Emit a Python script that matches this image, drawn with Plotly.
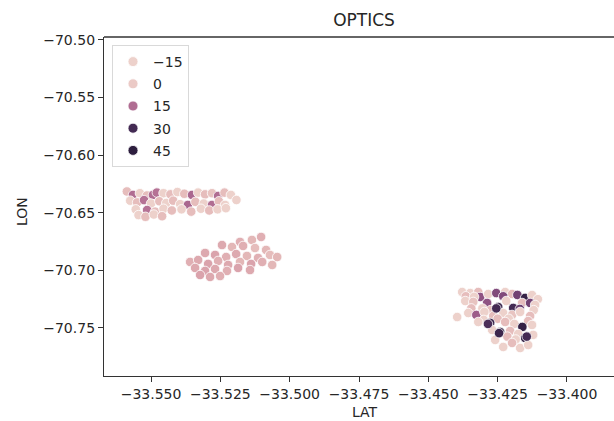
import numpy as np
import plotly.graph_objects as go

# ---------------- data ----------------
# top-left cluster
top_lat = [-33.5587, -33.5565, -33.5540, -33.5515, -33.5493, -33.5479, -33.5455, -33.5430, -33.5405,
           -33.5380, -33.5352, -33.5330, -33.5305, -33.5280, -33.5258, -33.5235, -33.5212,
           -33.5575, -33.5550, -33.5525, -33.5500, -33.5470, -33.5445, -33.5420, -33.5395, -33.5367,
           -33.5340, -33.5310, -33.5280, -33.5255, -33.5233, -33.5192,
           -33.5555, -33.5514, -33.5485, -33.5455, -33.5425, -33.5390, -33.5355, -33.5320, -33.5290,
           -33.5260, -33.5230,
           -33.5545, -33.5520, -33.5490, -33.5460]
top_lon = [-70.6315, -70.6345, -70.6330, -70.6350, -70.6345, -70.6325, -70.6330, -70.6340, -70.6320,
           -70.6335, -70.6345, -70.6325, -70.6340, -70.6330, -70.6354, -70.6325, -70.6345,
           -70.6395, -70.6410, -70.6390, -70.6420, -70.6400, -70.6415, -70.6395, -70.6425, -70.6432,
           -70.6405, -70.6420, -70.6432, -70.6400, -70.6432, -70.6389,
           -70.6470, -70.6476, -70.6490, -70.6465, -70.6480, -70.6470, -70.6490, -70.6465, -70.6480,
           -70.6470, -70.6460,
           -70.6520, -70.6535, -70.6515, -70.6530]
top_lab = [2, 15, -1, 2, 15, 14, -1, 2, -1,
           2, 16, -1, 2, 1, 15, 2, -1,
           -1, 2, 14, -1, 2, -1, 2, -1, 16,
           2, -1, 15, 2, -1, -1,
           -1, 14, 2, -1, 2, -1, 2, -1, 2,
           -1, -1,
           -1, 2, -1, 2]

# middle cluster
mid_lat = [-33.5179, -33.5136, -33.5103,
           -33.5244, -33.5208, -33.5168, -33.5125, -33.5085,
           -33.5305, -33.5269, -33.5229, -33.5193, -33.5154, -33.5114, -33.5071, -33.5045,
           -33.5359, -33.5330, -33.5294, -33.5258, -33.5222, -33.5179, -33.5139, -33.5099, -33.5063,
           -33.5341, -33.5305, -33.5269, -33.5226, -33.5186, -33.5143,
           -33.5323, -33.5287, -33.5251]
mid_lon = [-70.6753, -70.6736, -70.6710,
           -70.6780, -70.6797, -70.6788, -70.6806, -70.6823,
           -70.6849, -70.6866, -70.6884, -70.6858, -70.6875, -70.6892, -70.6866, -70.6884,
           -70.6927, -70.6910, -70.6944, -70.6918, -70.6953, -70.6927, -70.6944, -70.6927, -70.6953,
           -70.6979, -70.7005, -70.6988, -70.7005, -70.6979, -70.6997,
           -70.7040, -70.7057, -70.7049]
mid_lab = [4, 3, 4,
           5, 3, 4, 2, 3,
           5, 6, 4, 5, 3, 4, 2, 3,
           4, 5, 6, 4, 5, 3, 6, 4, 3,
           5, 6, 5, 4, 6, 5,
           6, 5, 4]

# right cluster
right_lat = [-33.4378, -33.4349, -33.4320, -33.4313, -33.4284, -33.4255, -33.4223, -33.4198, -33.4179,
             -33.4151, -33.4126,
             -33.4365, -33.4335, -33.4230, -33.4105,
             -33.4367, -33.4338, -33.4288, -33.4248, -33.4219, -33.4194, -33.4162, -33.4133, -33.4115,
             -33.4345, -33.4305, -33.4275, -33.4170, -33.4120,
             -33.4396,
             -33.4356, -33.4327, -33.4298, -33.4266, -33.4230, -33.4198, -33.4169, -33.4133,
             -33.4300, -33.4250, -33.4210, -33.4140,
             -33.4320, -33.4277, -33.4223, -33.4190, -33.4161, -33.4126,
             -33.4270, -33.4241, -33.4205, -33.4176, -33.4151, -33.4122,
             -33.4215, -33.4185,
             -33.4259, -33.4230, -33.4198, -33.4169, -33.4140,
             -33.4255, -33.4285, -33.4245, -33.4145]
right_lon = [-70.7188, -70.7197, -70.7188, -70.7231, -70.7205, -70.7197, -70.7188, -70.7205, -70.7213,
             -70.7239, -70.7214,
             -70.7225, -70.7230, -70.7225, -70.7250,
             -70.7266, -70.7274, -70.7283, -70.7318, -70.7266, -70.7326, -70.7283, -70.7283, -70.7300,
             -70.7330, -70.7330, -70.7345, -70.7335, -70.7345,
             -70.7405,
             -70.7370, -70.7387, -70.7361, -70.7396, -70.7370, -70.7387, -70.7361, -70.7396,
             -70.7430, -70.7420, -70.7420, -70.7440,
             -70.7448, -70.7456, -70.7448, -70.7465, -70.7491, -70.7474,
             -70.7517, -70.7535, -70.7526, -70.7552, -70.7587, -70.7560,
             -70.7575, -70.7600,
             -70.7604, -70.7665, -70.7630, -70.7674, -70.7648,
             -70.7330, -70.7465, -70.7545, -70.7575]
right_lab = [-1, -1, 2, 20, -1, 22, -1, 2, 24,
             32, -1,
             2, -1, 22, -1,
             -1, 1, 20, 31, -1, 30, 2, 24, -1,
             2, -1, 2, 25, -1,
             -1,
             -1, 18, -1, 2, -1, 1, -1, 2,
             -1, 2, -1, 2,
             -1, 31, 2, -1, 32, -1,
             -1, 33, 2, -1, 32, -1,
             2, -1,
             -1, -1, 2, -1, -1,
             30, 29, 31, 30]

lat = top_lat + mid_lat + right_lat
lon = top_lon + mid_lon + right_lon
labels = top_lab + mid_lab + right_lab

legend_values = [-15, 0, 15, 30, 45]
legend_text = ["\u221215", "0", "15", "30", "45"]

x_ticks = [-33.550, -33.525, -33.500, -33.475, -33.450, -33.425, -33.400]
x_ticktext = ["\u221233.550", "\u221233.525", "\u221233.500", "\u221233.475",
              "\u221233.450", "\u221233.425", "\u221233.400"]
y_ticks = [-70.50, -70.55, -70.60, -70.65, -70.70, -70.75]
y_ticktext = ["\u221270.50", "\u221270.55", "\u221270.60", "\u221270.65", "\u221270.70", "\u221270.75"]

# ---------------- colours (seaborn default cubehelix) ----------------
def cubehelix(x, start=0.0, rot=0.4, gamma=1.0, hue=0.8):
    xg = x ** gamma
    a = hue * xg * (1 - xg) / 2
    phi = 2 * np.pi * (start / 3 + rot * x)
    r = xg + a * (-0.14861 * np.cos(phi) + 1.78277 * np.sin(phi))
    g = xg + a * (-0.29227 * np.cos(phi) - 0.90649 * np.sin(phi))
    b = xg + a * (1.97294 * np.cos(phi))
    return tuple(int(round(min(max(c, 0), 1) * 255)) for c in (r, g, b))

LIGHT, DARK = 0.85, 0.15
vmin, vmax = min(labels), max(labels)

def color_for(v):
    t = (v - vmin) / (vmax - vmin)
    t = min(max(t, 0), 1)
    r, g, b = cubehelix(LIGHT + (DARK - LIGHT) * t)
    return f"rgb({r},{g},{b})"

colorscale = []
for t in np.linspace(0, 1, 33):
    r, g, b = cubehelix(LIGHT + (DARK - LIGHT) * t)
    colorscale.append([float(t), f"rgb({r},{g},{b})"])

FONT = "DejaVu Sans"
TXT = "#262626"
fig = go.Figure()
fig.add_trace(go.Scatter(
    x=lat, y=lon, mode="markers", showlegend=False,
    marker=dict(color=labels, colorscale=colorscale, cmin=vmin, cmax=vmax,
                size=9.5, line=dict(color="white", width=0.8), showscale=False),
    hoverinfo="skip",
))
for i, (v, txt) in enumerate(zip(legend_values, legend_text)):
    fig.add_trace(go.Scatter(
        x=[None], y=[None], mode="markers", name=txt, legendgroup=str(i),
        marker=dict(color=color_for(v), size=10, line=dict(color="white", width=0.8)),
    ))

axis_common = dict(showgrid=False, zeroline=False, showline=True, linecolor="#333333",
                   linewidth=1.3, ticks="outside", ticklen=5, tickwidth=1.2, tickcolor="#333333",
                   automargin=False,
                   tickfont=dict(family=FONT, size=14, color=TXT))

fig.update_layout(
    width=614, height=421,
    margin=dict(l=104, r=0, t=37, b=45),
    paper_bgcolor="white", plot_bgcolor="white",
    font=dict(family=FONT, color=TXT),
    title=dict(text="OPTICS", x=364 / 614, xanchor="center", y=1 - 20 / 421, yanchor="middle",
               font=dict(family=FONT, size=17, color=TXT)),
    xaxis=dict(range=[-33.56695, -33.38305], tickvals=x_ticks, ticktext=x_ticktext, **axis_common),
    yaxis=dict(range=[-70.7917, -70.4974], tickvals=y_ticks, ticktext=y_ticktext, **axis_common),
    legend=dict(x=(112 - 104) / 510, y=1 - (45 - 37) / 339, xanchor="left", yanchor="top",
                bgcolor="white", bordercolor="#d9d9d9", borderwidth=1,
                font=dict(family=FONT, size=14, color=TXT),
                tracegroupgap=1, itemwidth=30),
    shapes=[dict(type="line", xref="paper", yref="paper", x0=0, x1=1, y0=1, y1=1,
                 line=dict(color="#333333", width=1.3))],
    annotations=[
        dict(text="LAT", xref="paper", yref="paper", x=(365 - 104) / 510, y=-(412 - 376) / 339,
             xanchor="center", yanchor="middle", showarrow=False,
             font=dict(family=FONT, size=14, color=TXT)),
        dict(text="LON", xref="paper", yref="paper", x=-(104 - 22) / 510, y=1 - (212 - 37) / 339,
             xanchor="center", yanchor="middle", showarrow=False, textangle=-90,
             font=dict(family=FONT, size=14, color=TXT)),
    ],
)

fig.write_html("out.html", config={"displayModeBar": False},
               post_script="document.body.style.margin='0';document.body.style.overflow='hidden';")
